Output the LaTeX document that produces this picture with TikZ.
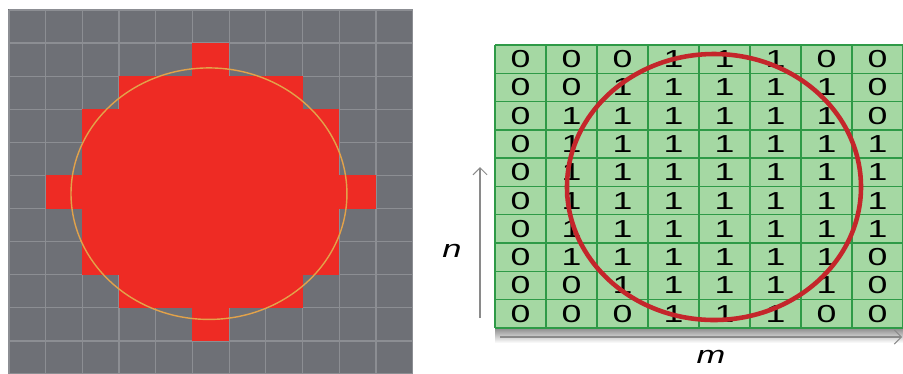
\documentclass[tikz,border=0pt]{standalone}
\usepackage{fontspec}
\setmainfont{Liberation Sans}
\usetikzlibrary{arrows.meta}

\definecolor{panelgray}{HTML}{6E7076}
\definecolor{panelline}{HTML}{8C8E93}
\definecolor{pixred}{HTML}{EE2B24}
\definecolor{ringorange}{HTML}{E2A24A}
\definecolor{cellgreen}{HTML}{A5D8A3}
\definecolor{cellline}{HTML}{2E9A47}
\definecolor{ringred}{HTML}{C4262B}
\definecolor{axisgray}{HTML}{8A8A8A}

\begin{document}
\begin{tikzpicture}[
  x=0.02cm,
  y=-0.02cm,
  >={Straight Barb[length=4pt,width=8pt]},
  pix/.style={fill=pixred},
  pixgrid/.style={draw=panelline, line width=0.7pt},
  bitgrid/.style={draw=cellline, line width=0.8pt},
  bit/.style={font=\fontsize{14}{14}\selectfont, xscale=1.45, inner sep=0pt},
  axislabel/.style={font=\fontsize{14}{14}\selectfont\itshape, xscale=1.4, inner sep=0pt},
  axis/.style={draw=axisgray, line width=0.6pt}
]
  \useasboundingbox (0,0) rectangle (903,373);

  % left panel: pixelated disc
  \fill[panelgray] (8,9) rectangle (412,373);
  \begin{scope}[shift={(9,10)}, x=0.734cm, y=-0.662cm]
    \foreach \i in {0,...,11} {
      \draw[pixgrid] (\i,0) -- (\i,11);
      \draw[pixgrid] (0,\i) -- (11,\i);
    }
    \foreach \r/\a/\b in {1/5/5, 2/3/7, 3/2/8, 4/2/8, 5/1/9, 6/2/8, 7/2/8, 8/3/7, 9/5/5}
      \fill[pix] (\a,\r) rectangle (\b+1,\r+1);
    \draw[ringorange, line width=0.8pt] (5.45,5.55) ellipse [x radius=3.76, y radius=3.8];
  \end{scope}

  % right panel: bit matrix
  \shade[top color=black!45, bottom color=white] (495,328) rectangle (903,343);
  \begin{scope}[shift={(495,45)}, x=1.02cm, y=-0.566cm]
    \fill[cellgreen] (0,0) rectangle (8,10);
    \foreach \i in {0,...,8}
      \draw[bitgrid] (\i,0) -- (\i,10);
    \foreach \j in {0,...,10}
      \draw[bitgrid] (0,\j) -- (8,\j);
    \foreach \row [count=\r from 0] in {
        {0,0,0,1,1,1,0,0},
        {0,0,1,1,1,1,1,0},
        {0,1,1,1,1,1,1,0},
        {0,1,1,1,1,1,1,1},
        {0,1,1,1,1,1,1,1},
        {0,1,1,1,1,1,1,1},
        {0,1,1,1,1,1,1,1},
        {0,1,1,1,1,1,1,0},
        {0,0,1,1,1,1,1,0},
        {0,0,0,1,1,1,0,0}}
      \foreach \v [count=\c from 0] in \row
        \node[bit] (b-\r-\c) at (\c+0.5,\r+0.5) {\v};
  \end{scope}
  \draw[ringred, line width=2.6pt] (714,187) ellipse [x radius=147, y radius=133];

  % axes
  \coordinate (nfoot) at (480,318);
  \coordinate (ntip) at (480,167);
  \coordinate (mfoot) at (500,337);
  \coordinate (mtip) at (902,337);
  \draw[axis,->] (nfoot) -- (ntip);
  \draw[axis,->] (mfoot) -- (mtip);
  \node[axislabel] (nlabel) at (452,251) {n};
  \node[axislabel] (mlabel) at (711,357) {m};
\end{tikzpicture}
\end{document}
